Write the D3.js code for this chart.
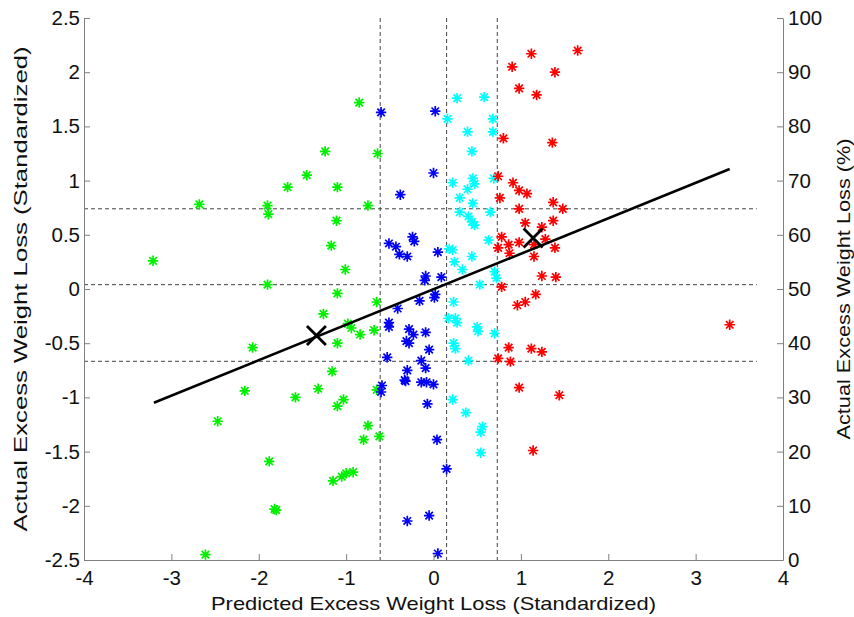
<!DOCTYPE html>
<html><head><meta charset="utf-8">
<script src="https://cdn.jsdelivr.net/npm/d3@7"></script>
<style>body{margin:0;background:#fff}svg{display:block}text{font-family:"Liberation Sans",Arial,sans-serif}</style>
</head><body><svg id="c" width="854" height="617"></svg>
<script>
const green = [[-0.85,1.72],[-1.24,1.27],[-0.64,1.25],[-1.45,1.05],[-1.67,0.94],[-1.10,0.94],[-2.68,0.78],[-1.90,0.77],[-0.75,0.77],[-1.89,0.69],[-1.11,0.63],[-1.17,0.40],[-3.21,0.26],[-1.01,0.18],[-1.90,0.04],[-1.10,-0.04],[-0.65,-0.12],[-1.26,-0.23],[-0.98,-0.32],[-0.94,-0.36],[-0.68,-0.38],[-0.84,-0.42],[-1.10,-0.50],[-2.07,-0.54],[-1.16,-0.76],[-2.16,-0.94],[-1.32,-0.92],[-1.58,-1.00],[-0.65,-0.93],[-1.03,-1.02],[-1.10,-1.08],[-2.47,-1.22],[-0.75,-1.26],[-0.62,-1.36],[-0.80,-1.39],[-1.88,-1.59],[-0.92,-1.69],[-1.00,-1.70],[-1.05,-1.73],[-1.15,-1.77],[-1.82,-2.03],[-1.80,-2.04],[-2.61,-2.45]];
const blue = [[-0.60,1.63],[0.02,1.64],[0.00,1.07],[-0.38,0.87],[-0.24,0.48],[-0.22,0.44],[-0.51,0.42],[-0.43,0.39],[-0.39,0.32],[-0.30,0.30],[0.05,0.34],[-0.09,0.12],[-0.10,0.08],[0.09,0.11],[0.02,-0.05],[0.01,-0.08],[-0.16,-0.11],[-0.41,-0.18],[-0.51,-0.31],[-0.51,-0.35],[-0.28,-0.37],[-0.23,-0.42],[-0.09,-0.40],[-0.31,-0.48],[-0.28,-0.50],[-0.05,-0.56],[-0.53,-0.63],[-0.14,-0.66],[-0.09,-0.73],[-0.30,-0.75],[-0.33,-0.84],[-0.32,-0.85],[-0.14,-0.86],[-0.08,-0.86],[0.00,-0.88],[-0.59,-0.89],[-0.60,-0.95],[-0.07,-1.06],[0.04,-1.39],[0.15,-1.66],[-0.05,-2.09],[-0.30,-2.14],[0.05,-2.44]];
const cyan = [[0.27,1.76],[0.58,1.77],[0.16,1.57],[0.68,1.57],[0.39,1.45],[0.68,1.45],[0.44,1.27],[0.22,0.98],[0.45,1.02],[0.47,0.97],[0.69,1.02],[0.39,0.92],[0.30,0.84],[0.45,0.79],[0.30,0.71],[0.65,0.71],[0.40,0.67],[0.44,0.62],[0.47,0.59],[0.63,0.45],[0.18,0.37],[0.22,0.36],[0.44,0.30],[0.24,0.25],[0.33,0.18],[0.70,0.16],[0.72,0.10],[0.53,0.04],[0.23,-0.12],[0.17,-0.27],[0.25,-0.27],[0.27,-0.31],[0.50,-0.35],[0.51,-0.39],[0.70,-0.41],[0.23,-0.50],[0.25,-0.55],[0.40,-0.66],[0.22,-1.02],[0.37,-1.14],[0.56,-1.27],[0.54,-1.32],[0.54,-1.51]];
const red = [[1.65,2.20],[1.12,2.17],[0.90,2.05],[1.39,2.00],[0.98,1.85],[1.18,1.79],[0.80,1.39],[1.36,1.35],[0.74,1.04],[0.91,0.98],[0.98,0.91],[1.07,0.88],[0.76,0.84],[1.37,0.80],[1.48,0.74],[0.98,0.74],[1.05,0.61],[1.37,0.63],[1.24,0.57],[0.78,0.48],[1.28,0.46],[0.98,0.43],[0.86,0.41],[0.74,0.38],[1.39,0.38],[1.15,0.41],[0.87,0.33],[1.15,0.30],[1.24,0.12],[1.40,0.11],[0.78,0.02],[1.17,-0.05],[1.05,-0.12],[0.96,-0.15],[0.86,-0.54],[1.12,-0.55],[1.24,-0.58],[0.74,-0.64],[0.88,-0.67],[0.98,-0.91],[1.44,-0.98],[1.14,-1.49],[3.39,-0.33]];
const vCuts = [-0.61, 0.15, 0.73];
const hCuts = [0.74, 0.04, -0.667];
const hCutEnd = 3.7;
const regX = [-3.2, 3.39];
const regY = [-1.05, 1.107];
const centers = [[-1.34,-0.43],[1.14,0.47]];
const xTicks = [-4,-3,-2,-1,0,1,2,3,4];
const yTicks = [-2.5,-2,-1.5,-1,-0.5,0,0.5,1,1.5,2,2.5];
const yRTicks = [0,10,20,30,40,50,60,70,80,90,100];
const seriesColors = ["#00f000","#0000f5","#00ffff","#ff0000"];

const svg = d3.select("#c");
const L=84,R=783,T=18,B=560;
const x = d3.scaleLinear().domain([-4,4]).range([L,R]);
const y = d3.scaleLinear().domain([-2.5,2.5]).range([B,T]);
const yR = d3.scaleLinear().domain([0,100]).range([B,T]);
const axisCol="#808080", txtCol="#111";

// dashed cut lines
const dash = svg.append("g").attr("stroke","#444").attr("stroke-width",1).attr("stroke-dasharray","4,3");
vCuts.forEach(v=>dash.append("line").attr("x1",x(v)).attr("x2",x(v)).attr("y1",y(2.5)).attr("y2",y(-2.5)));
hCuts.forEach(h=>dash.append("line").attr("x1",x(-4)).attr("x2",x(hCutEnd)).attr("y1",y(h)).attr("y2",y(h)));

// points
function star(g, data, col){
  const r=5.2, d=r*0.72;
  const p = `M${-r},0H${r}M0,${-r}V${r}M${-d},${-d}L${d},${d}M${-d},${d}L${d},${-d}`;
  g.selectAll(null).data(data).enter().append("path")
   .attr("d",p).attr("transform",v=>`translate(${x(v[0])},${y(v[1])})`)
   .attr("stroke",col).attr("stroke-width",1.7).attr("fill","none");
}
const pg = svg.append("g");
star(pg, green, seriesColors[0]);
star(pg, blue, seriesColors[1]);
star(pg, cyan, seriesColors[2]);
star(pg, red, seriesColors[3]);

// regression line
svg.append("line").attr("x1",x(regX[0])).attr("y1",y(regY[0])).attr("x2",x(regX[1])).attr("y2",y(regY[1]))
  .attr("stroke","#000").attr("stroke-width",2.6);
// centers
const cs=9.5;
svg.selectAll(null).data(centers).enter().append("path")
  .attr("d",`M${-cs},${-cs}L${cs},${cs}M${-cs},${cs}L${cs},${-cs}`)
  .attr("transform",v=>`translate(${x(v[0])},${y(v[1])})`)
  .attr("stroke","#000").attr("stroke-width",2.8).attr("fill","none");

// axes
const ax = svg.append("g");
const styleAxis = g => { g.select(".domain").attr("stroke",axisCol).attr("fill","none");
  g.selectAll(".tick line").attr("stroke",axisCol);
  g.selectAll(".tick text").attr("fill",txtCol).style("font-size","20.5px").style("font-family","'Liberation Sans',Arial,sans-serif"); };
ax.append("g").attr("transform",`translate(0,${B})`)
  .call(d3.axisBottom(x).tickValues(xTicks).tickSize(-6).tickSizeOuter(0).tickPadding(10).tickFormat(d=>String(d)))
  .call(styleAxis);
ax.append("g").attr("transform",`translate(${L},0)`)
  .call(d3.axisLeft(y).tickValues(yTicks).tickSize(-6).tickSizeOuter(0).tickPadding(4).tickFormat(d=>String(d)))
  .call(styleAxis);
ax.append("g").attr("transform",`translate(${R},0)`)
  .call(d3.axisRight(yR).tickValues(yRTicks).tickSize(-6).tickSizeOuter(0).tickPadding(5).tickFormat(d=>String(d)))
  .call(styleAxis);

// labels
svg.append("text").attr("x",(L+R)/2).attr("y",610).attr("text-anchor","middle")
  .attr("textLength",445).attr("lengthAdjust","spacingAndGlyphs")
  .attr("fill",txtCol).style("font-size","19px").text("Predicted Excess Weight Loss (Standardized)");
svg.append("text").attr("transform",`translate(27,${(T+B)/2}) rotate(-90)`).attr("text-anchor","middle")
  .attr("textLength",485).attr("lengthAdjust","spacingAndGlyphs")
  .attr("fill",txtCol).style("font-size","19px").text("Actual Excess Weight Loss (Standardized)");
svg.append("text").attr("transform",`translate(850,${(T+B)/2}) rotate(-90)`).attr("text-anchor","middle")
  .attr("textLength",301).attr("lengthAdjust","spacingAndGlyphs")
  .attr("fill",txtCol).style("font-size","19px").text("Actual Excess Weight Loss (%)");
</script></body></html>
